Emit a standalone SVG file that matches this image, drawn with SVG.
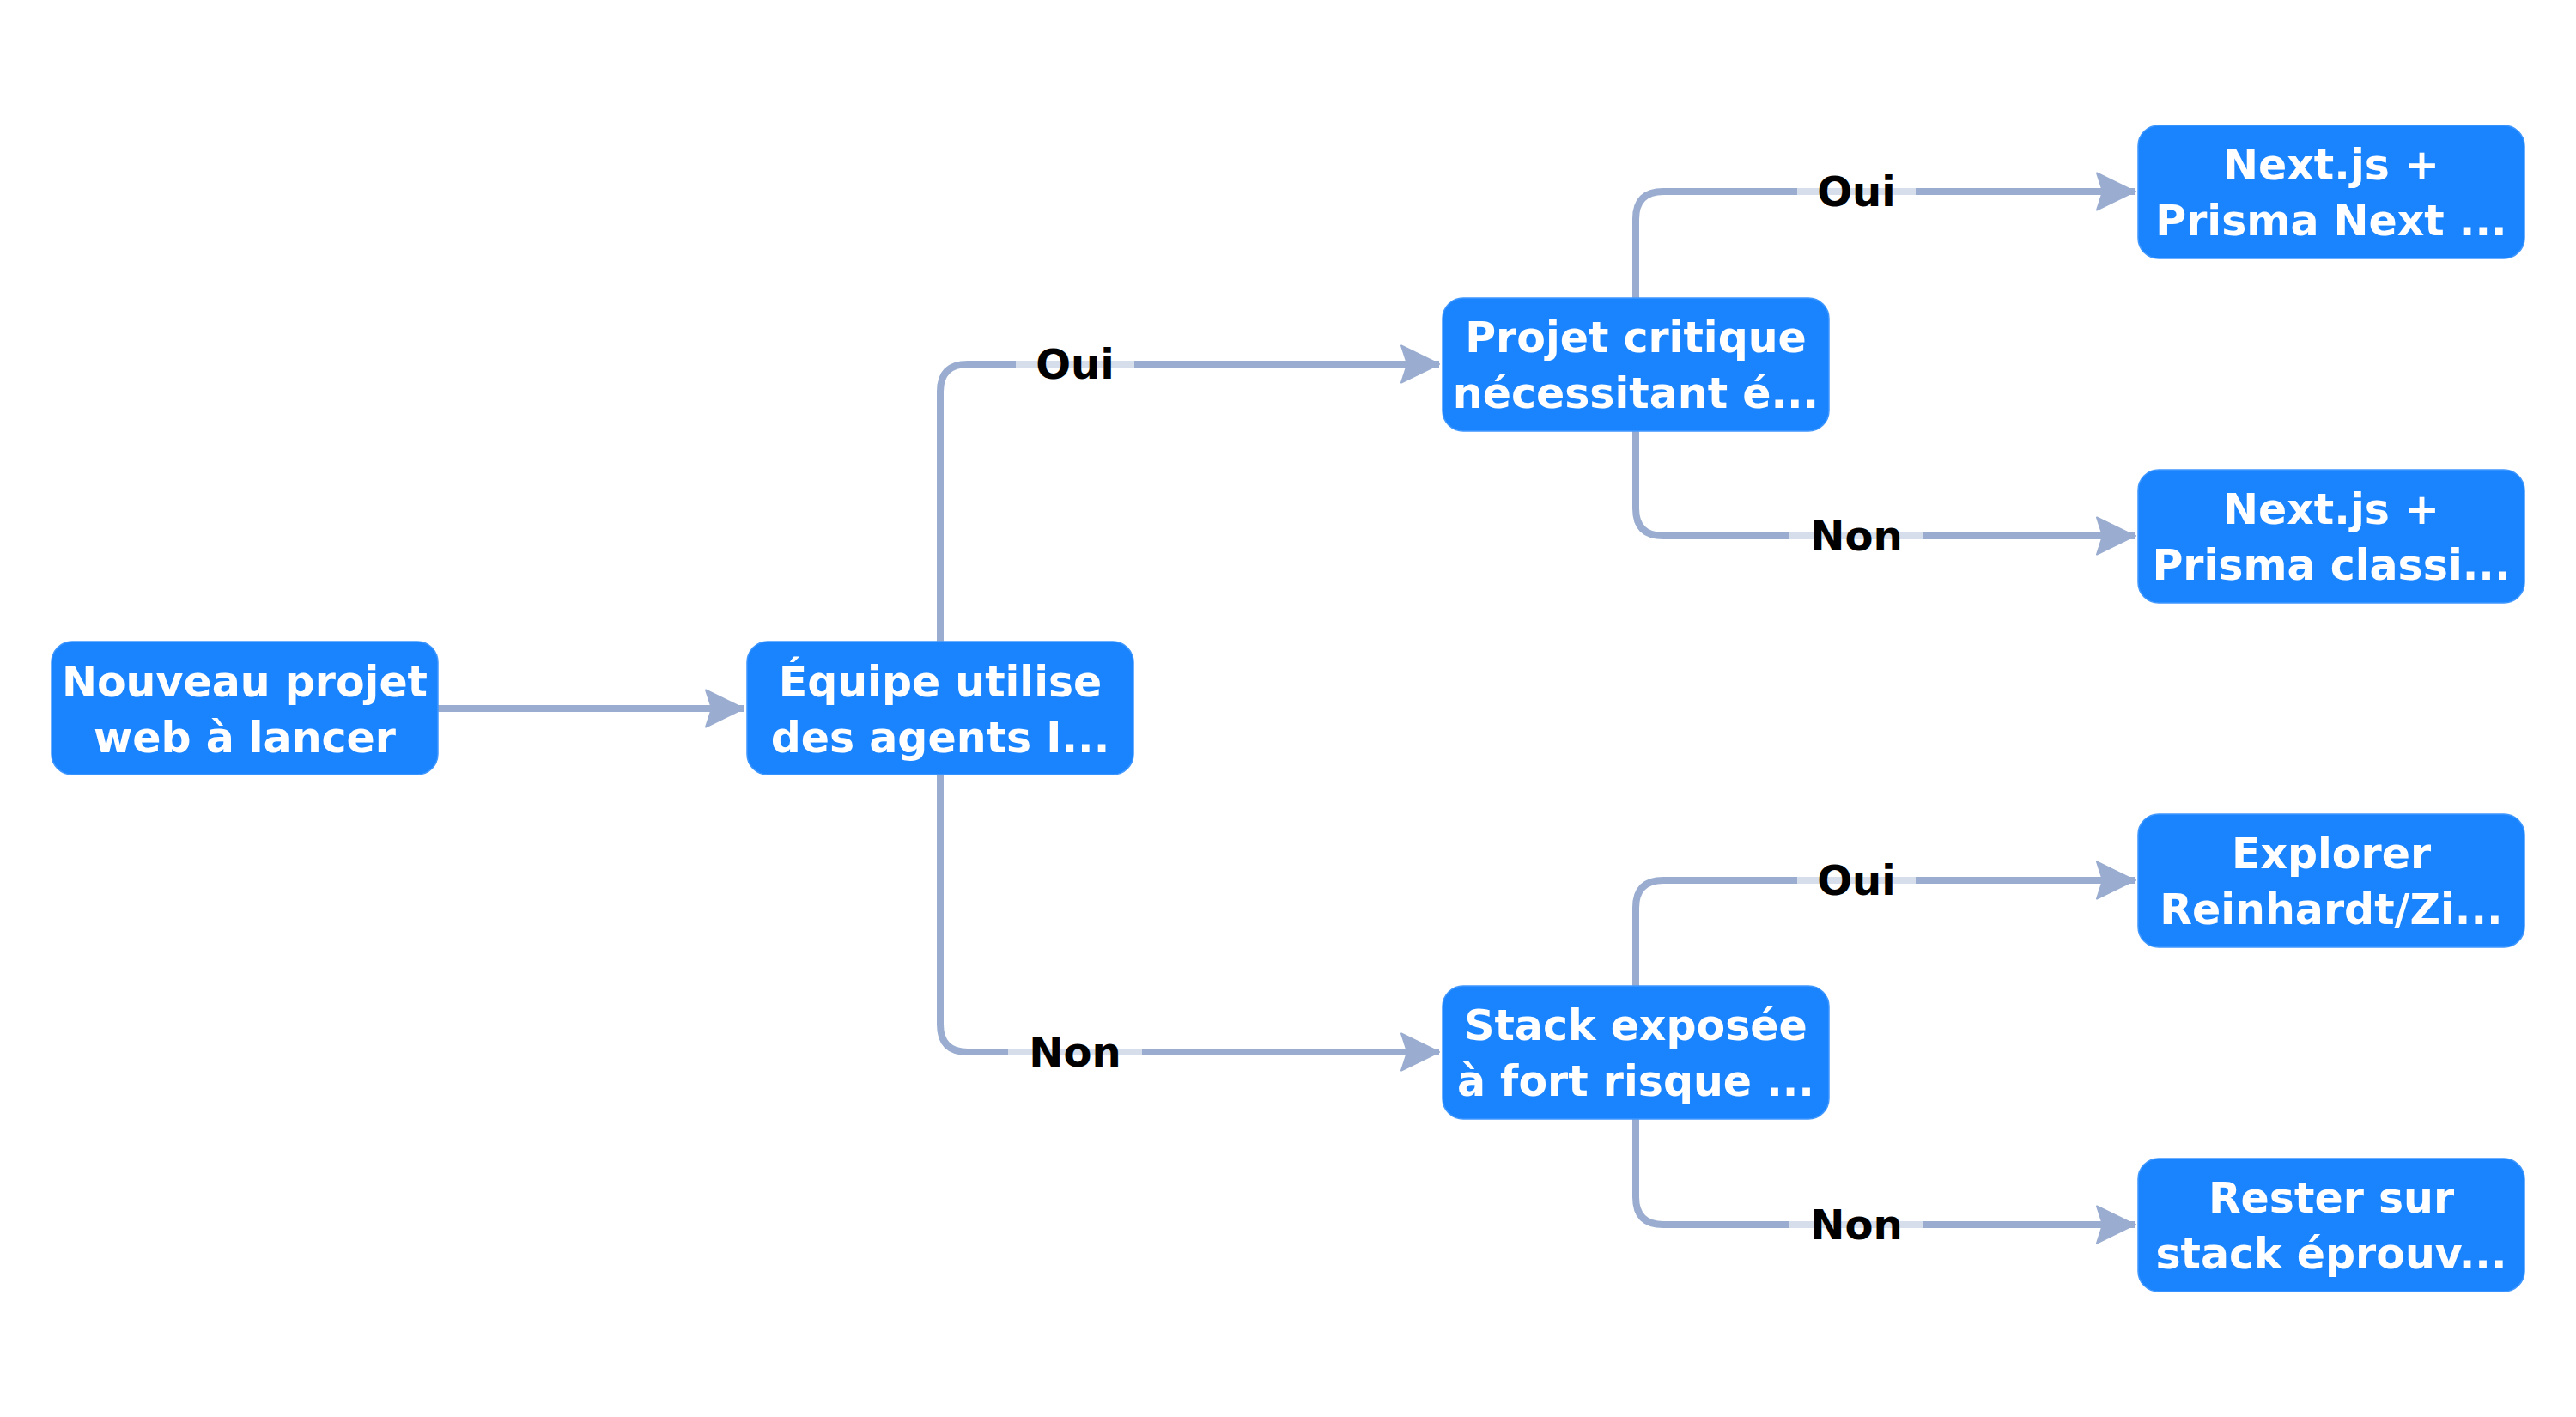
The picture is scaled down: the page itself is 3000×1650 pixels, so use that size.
<svg xmlns="http://www.w3.org/2000/svg" width="3000" height="1650" viewBox="0 0 3000 1650">
<style>
.node rect{fill:#1a84ff;stroke:#3f97ff;stroke-width:1.5}
.node text{font-family:"DejaVu Sans",sans-serif;font-weight:bold;font-size:49px;fill:#ffffff;text-anchor:middle}
.edge{fill:none;stroke:#9aadd0;stroke-width:8}
.lbl rect{fill:#ffffff;fill-opacity:0.6}
.lbl text{font-family:"DejaVu Sans",sans-serif;font-weight:bold;font-size:48px;fill:#000000;text-anchor:middle}
</style>
<defs>
<marker id="arr" markerUnits="userSpaceOnUse" markerWidth="50" markerHeight="50" refX="45" refY="22.5" orient="auto" overflow="visible">
<path d="M1,1 L45,22.5 L1,44 L8,22.5 Z" fill="#9aadd0" stroke="#9aadd0" stroke-width="2" stroke-linejoin="round"/>
</marker>
</defs>
<rect width="3000" height="1650" fill="#ffffff"/>
<g id="connectors">
<path class="edge" d="M510,825 L866,825" marker-end="url(#arr)"/>
<path class="edge" d="M1095,747 L1095,456 Q1095,424 1127,424 L1676,424" marker-end="url(#arr)"/>
<path class="edge" d="M1095,902 L1095,1193 Q1095,1225 1127,1225 L1676,1225" marker-end="url(#arr)"/>
<path class="edge" d="M1905,347 L1905,255 Q1905,223 1937,223 L2486,223" marker-end="url(#arr)"/>
<path class="edge" d="M1905,502 L1905,592 Q1905,624 1937,624 L2486,624" marker-end="url(#arr)"/>
<path class="edge" d="M1905,1148 L1905,1057 Q1905,1025 1937,1025 L2486,1025" marker-end="url(#arr)"/>
<path class="edge" d="M1905,1303 L1905,1394 Q1905,1426 1937,1426 L2486,1426" marker-end="url(#arr)"/>
<g class="lbl"><rect x="1183" y="394" width="138" height="60"/><text x="1252" y="441">Oui</text></g>
<g class="lbl"><rect x="1174" y="1195" width="156" height="60"/><text x="1252" y="1242">Non</text></g>
<g class="lbl"><rect x="2093" y="193" width="138" height="60"/><text x="2162" y="240">Oui</text></g>
<g class="lbl"><rect x="2084" y="594" width="156" height="60"/><text x="2162" y="641">Non</text></g>
<g class="lbl"><rect x="2093" y="995" width="138" height="60"/><text x="2162" y="1042">Oui</text></g>
<g class="lbl"><rect x="2084" y="1396" width="156" height="60"/><text x="2162" y="1443">Non</text></g>
</g>
<g id="n1" class="node"><rect x="60" y="747" width="450" height="155" rx="24"/><text x="285" y="811">Nouveau projet</text><text x="285" y="876">web à lancer</text></g>
<g id="n2" class="node"><rect x="870" y="747" width="450" height="155" rx="24"/><text x="1095" y="811">Équipe utilise</text><text x="1095" y="876">des agents I...</text></g>
<g id="n3" class="node"><rect x="1680" y="347" width="450" height="155" rx="24"/><text x="1905" y="410">Projet critique</text><text x="1905" y="475">nécessitant é...</text></g>
<g id="n4" class="node"><rect x="1680" y="1148" width="450" height="155" rx="24"/><text x="1905" y="1211">Stack exposée</text><text x="1905" y="1276">à fort risque ...</text></g>
<g id="l1" class="node"><rect x="2490" y="146" width="450" height="155" rx="24"/><text x="2715" y="209">Next.js +</text><text x="2715" y="274">Prisma Next ...</text></g>
<g id="l2" class="node"><rect x="2490" y="547" width="450" height="155" rx="24"/><text x="2715" y="610">Next.js +</text><text x="2715" y="675">Prisma classi...</text></g>
<g id="l3" class="node"><rect x="2490" y="948" width="450" height="155" rx="24"/><text x="2715" y="1011">Explorer</text><text x="2715" y="1076">Reinhardt/Zi...</text></g>
<g id="l4" class="node"><rect x="2490" y="1349" width="450" height="155" rx="24"/><text x="2715" y="1412">Rester sur</text><text x="2715" y="1477">stack éprouv...</text></g>
</svg>
